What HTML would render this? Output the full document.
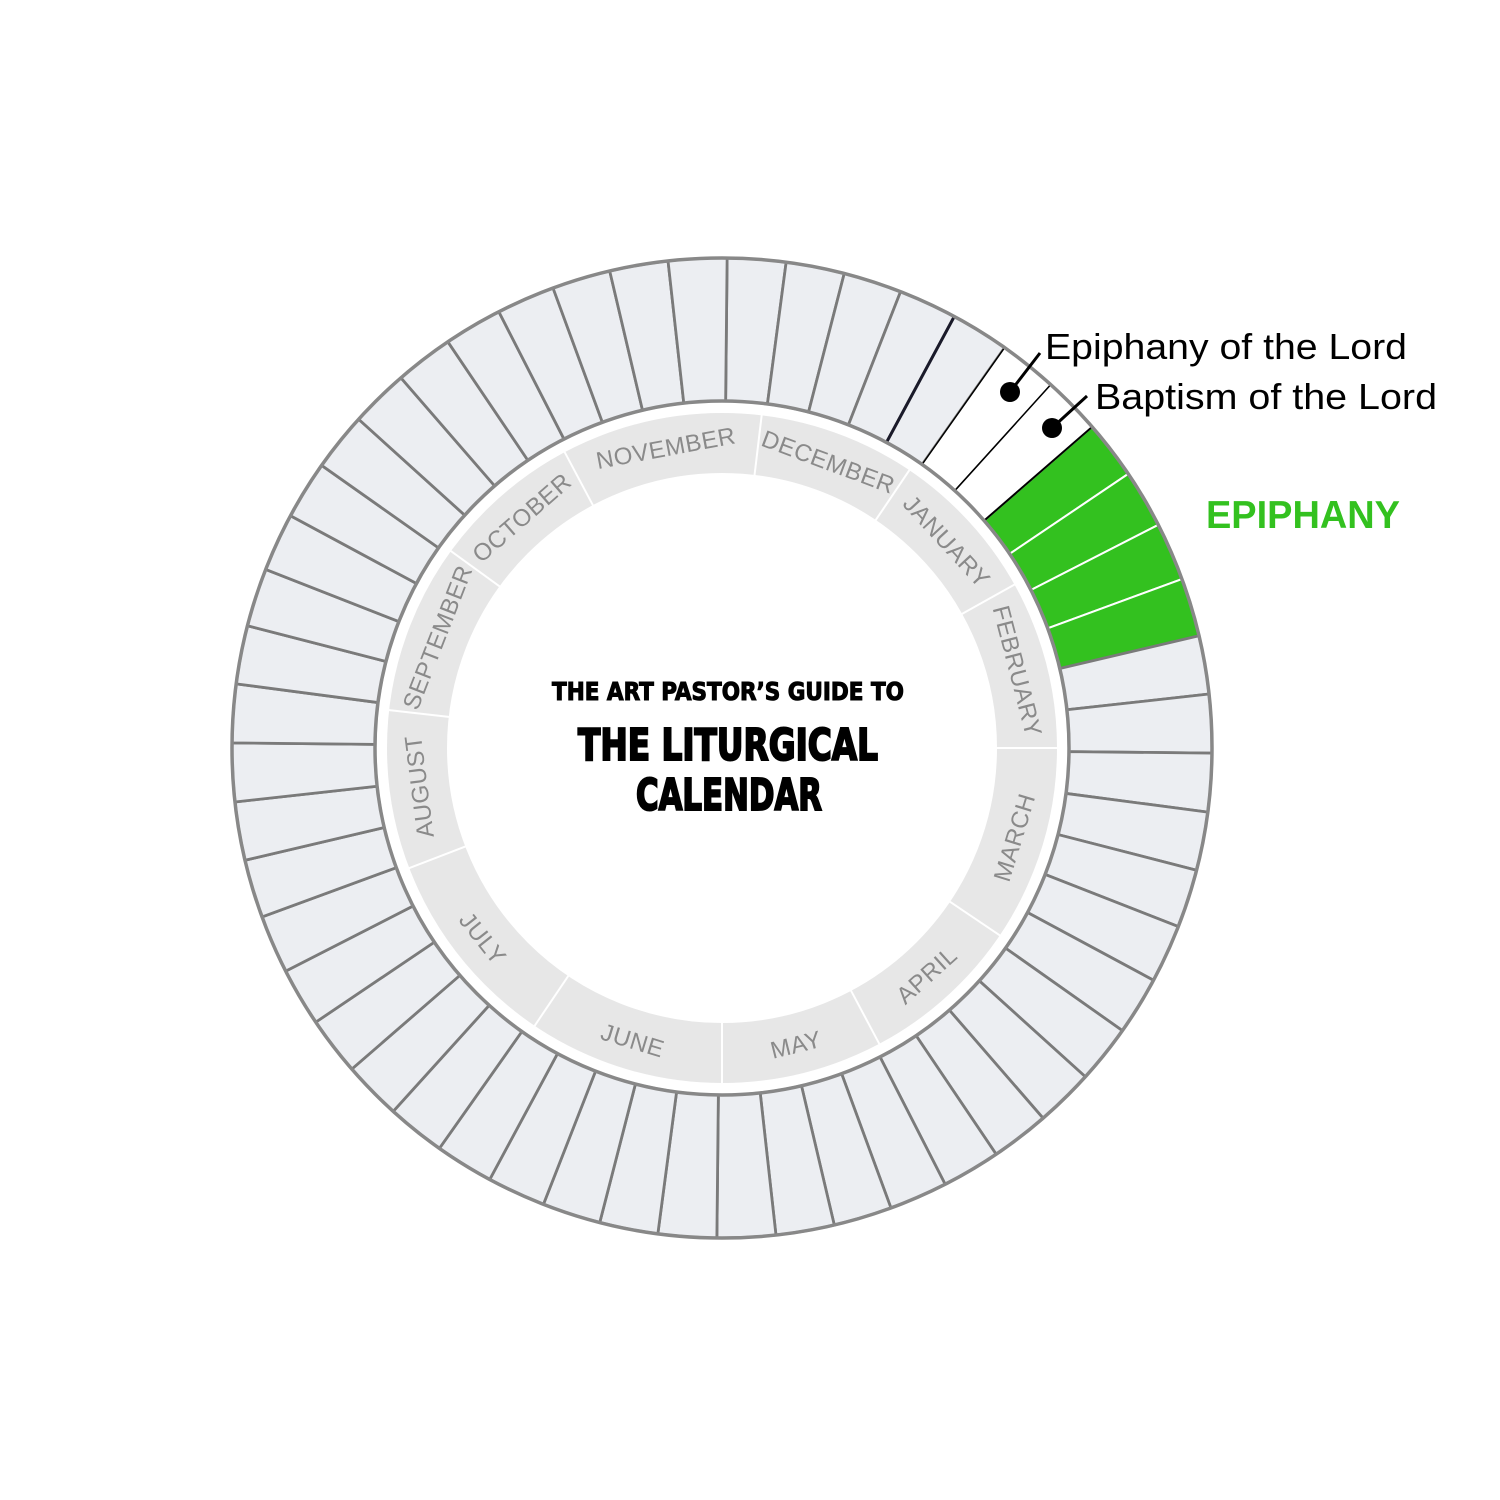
<!DOCTYPE html>
<html><head><meta charset="utf-8">
<style>html,body{margin:0;padding:0;background:#fff}svg{display:block}</style>
</head><body>
<svg id="s" width="1500" height="1500" viewBox="0 0 1500 1500" xmlns="http://www.w3.org/2000/svg">
<rect width="1500" height="1500" fill="#fff"/>
<g id="segs"></g>
<circle cx="722" cy="748" r="490" fill="none" stroke="#888" stroke-width="3.5"/>
<circle cx="722" cy="748" r="347" fill="none" stroke="#888" stroke-width="3.5"/>
<circle cx="722" cy="748" r="305" fill="none" stroke="#e7e7e7" stroke-width="60"/>
<g id="mlines"></g>
<g font-family="'Liberation Sans', sans-serif" font-size="24" fill="#8a8a8a" text-anchor="middle" letter-spacing="0.5">
<text x="722" y="451" transform="rotate(-10.6 722 748)">NOVEMBER</text>
<text x="722" y="451" transform="rotate(20.4 722 748)">DECEMBER</text>
<text x="722" y="451" transform="rotate(47.4 722 748)">JANUARY</text>
<text x="722" y="451" transform="rotate(75.4 722 748)">FEBRUARY</text>
<text x="722" y="1062" transform="rotate(-73 722 748)">MARCH</text>
<text x="722" y="1062" transform="rotate(-42 722 748)">APRIL</text>
<text x="722" y="1062" transform="rotate(-14 722 748)">MAY</text>
<text x="722" y="1062" transform="rotate(17 722 748)">JUNE</text>
<text x="722" y="1062" transform="rotate(51.5 722 748)">JULY</text>
<text x="722" y="451" transform="rotate(-97.25 722 748)">AUGUST</text>
<text x="722" y="451" transform="rotate(-68.75 722 748)">SEPTEMBER</text>
<text x="722" y="451" transform="rotate(-41 722 748)">OCTOBER</text>
</g>
<g font-family="'DejaVu Sans Condensed','DejaVu Sans',sans-serif" font-weight="bold" fill="#000" stroke="#000" text-anchor="middle">
<text x="728" y="700" font-size="25" stroke-width="1" textLength="352" lengthAdjust="spacingAndGlyphs">THE ART PASTOR’S GUIDE TO</text>
<text x="728" y="760" font-size="44" stroke-width="2" textLength="300" lengthAdjust="spacingAndGlyphs">THE LITURGICAL</text>
<text x="729" y="810" font-size="44" stroke-width="2" textLength="186" lengthAdjust="spacingAndGlyphs">CALENDAR</text>
</g>
<g font-family="'Liberation Sans', sans-serif" font-size="36" fill="#000">
<text x="1045" y="359" textLength="362" lengthAdjust="spacingAndGlyphs">Epiphany of the Lord</text>
<text x="1095" y="409" textLength="342" lengthAdjust="spacingAndGlyphs">Baptism of the Lord</text>
</g>
<line x1="1010" y1="392" x2="1040" y2="353" stroke="#000" stroke-width="3"/>
<circle cx="1010" cy="392" r="10" fill="#000"/>
<line x1="1052" y1="428" x2="1087" y2="396" stroke="#000" stroke-width="3"/>
<circle cx="1052" cy="428" r="10" fill="#000"/>
<text x="1206" y="528" font-family="'Liberation Sans', sans-serif" font-weight="bold" font-size="39" fill="#33c11f" textLength="194" lengthAdjust="spacingAndGlyphs">EPIPHANY</text>
</svg>
<script>
(function(){
var NS="http://www.w3.org/2000/svg",cx=722,cy=748;
function P(r,a){a=a*Math.PI/180;return [cx+r*Math.sin(a),cy-r*Math.cos(a)];}
var g=document.getElementById('segs'),step=360/52;
for(var k=0;k<52;k++){
 var a0=0.6+k*step,a1=a0+step;
 var p1=P(347,a0),p2=P(490,a0),p3=P(490,a1),p4=P(347,a1);
 var d="M"+p1+"L"+p2+"A490 490 0 0 1 "+p3+"L"+p4+"A347 347 0 0 0 "+p1+"Z";
 var e=document.createElementNS(NS,'path');e.setAttribute('d',d);
 var fill="#eceef2",stroke="#7a7a7a",sw=2.8;
 if(k==5||k==6){fill="#fff";stroke="#000";sw=1.5;}
 if(k>=7&&k<=10){fill="#33c11f";stroke="#fff";sw=2;}
 e.setAttribute('fill',fill);e.setAttribute('stroke',stroke);e.setAttribute('stroke-width',sw);
 g.appendChild(e);
}
var dk=P(347,0.6+4*step),dk2=P(490,0.6+4*step);
var l=document.createElementNS(NS,'line');
l.setAttribute('x1',dk[0]);l.setAttribute('y1',dk[1]);l.setAttribute('x2',dk2[0]);l.setAttribute('y2',dk2[1]);
l.setAttribute('stroke','#1a1a2a');l.setAttribute('stroke-width',3);g.appendChild(l);
var gl=P(347,0.6+7*step),gl2=P(490,0.6+7*step);
l=document.createElementNS(NS,'line');
l.setAttribute('x1',gl[0]);l.setAttribute('y1',gl[1]);l.setAttribute('x2',gl2[0]);l.setAttribute('y2',gl2[1]);
l.setAttribute('stroke','#000');l.setAttribute('stroke-width',2);g.appendChild(l);
var m=document.getElementById('mlines');
[6.8,34,60.8,90,124,152,180,214,249,276.5,306,332].forEach(function(a){
 var q1=P(274,a),q2=P(337,a);var ln=document.createElementNS(NS,'line');
 ln.setAttribute('x1',q1[0]);ln.setAttribute('y1',q1[1]);ln.setAttribute('x2',q2[0]);ln.setAttribute('y2',q2[1]);
 ln.setAttribute('stroke','#fff');ln.setAttribute('stroke-width',2);m.appendChild(ln);
});
})();
</script>
</body></html>
